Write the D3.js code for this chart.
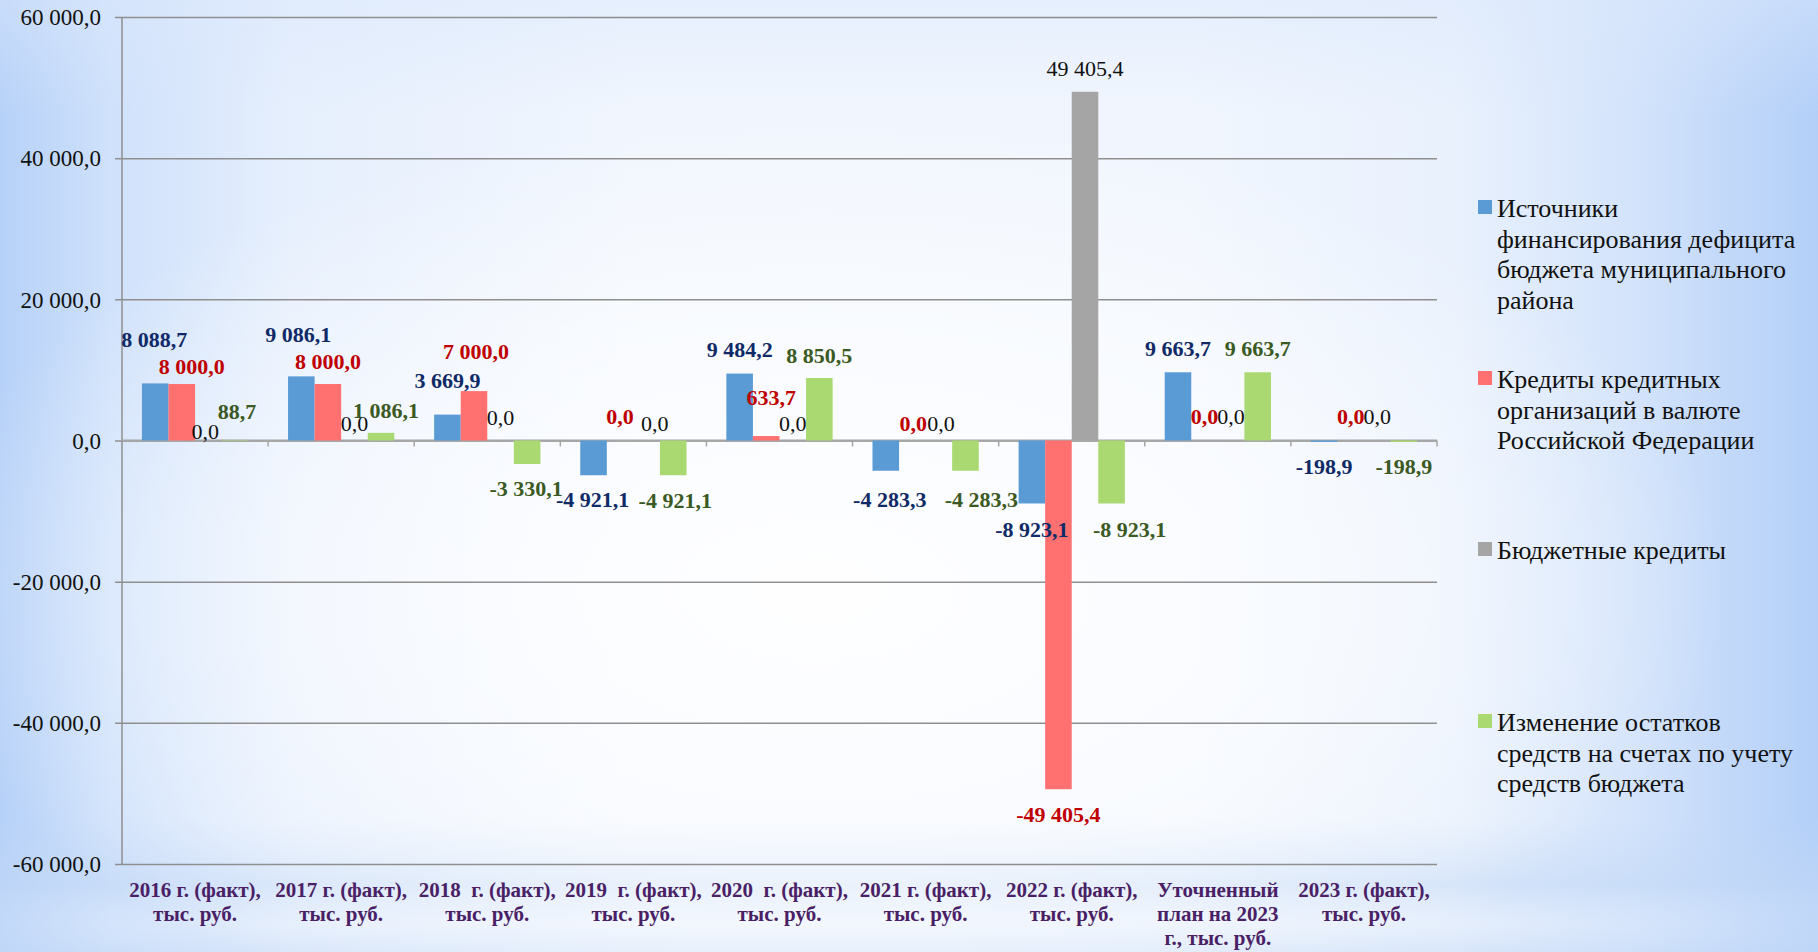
<!DOCTYPE html>
<html><head><meta charset="utf-8">
<script src="https://cdn.jsdelivr.net/npm/d3@7"></script>
<style>
html,body{margin:0;padding:0;overflow:hidden;}
svg{display:block;}
text{font-family:"Liberation Serif","Times New Roman",serif;white-space:pre;}
</style></head>
<body>
<svg id="c" width="1818" height="952"></svg>
<script>
// ---------- data ----------
const categories = [
  "2016 г. (факт),\nтыс. руб.",
  "2017 г. (факт),\nтыс. руб.",
  "2018  г. (факт),\nтыс. руб.",
  "2019  г. (факт),\nтыс. руб.",
  "2020  г. (факт),\nтыс. руб.",
  "2021 г. (факт),\nтыс. руб.",
  "2022 г. (факт),\nтыс. руб.",
  "Уточненный\nплан на 2023\nг., тыс. руб.",
  "2023 г. (факт),\nтыс. руб."
];
const seriesNames = [
  "Источники\nфинансирования дефицита\nбюджета муниципального\nрайона",
  "Кредиты кредитных\nорганизаций в валюте\nРоссийской Федерации",
  "Бюджетные кредиты",
  "Изменение остатков\nсредств на счетах по учету\nсредств бюджета"
];
const sourcesValues = [8088.7, 9086.1, 3669.9, -4921.1, 9484.2, -4283.3, -8923.1, 9663.7, -198.9];
const bankCreditValues = [8000.0, 8000.0, 7000.0, 0.0, 633.7, 0.0, -49405.4, 0.0, 0.0];
const budgetCreditValues = [0.0, 0.0, 0.0, 0.0, 0.0, 0.0, 49405.4, 0.0, 0.0];
const balanceChangeValues = [88.7, 1086.1, -3330.1, -4921.1, 8850.5, -4283.3, -8923.1, 9663.7, -198.9];
const yTicks = [-60000, -40000, -20000, 0, 20000, 40000, 60000];

// ---------- style / layout ----------
const seriesValues = [sourcesValues, bankCreditValues, budgetCreditValues, balanceChangeValues];
const barColors = ["#5B9BD5", "#FF7171", "#A5A5A5", "#A9D970"];
const labelColors = ["#0F2A66", "#C00000", "#111111", "#3B5A23"];
const labelWeights = ["bold", "bold", "normal", "bold"];
// manual nudges of data labels [dx, dy] (label layout, like the hand-moved labels in the original)
const labelNudge = [
  [[-1,-20],[-3,-18],[0,-10],[-1,0],[0,0],[4,5],[0,2],[0,0],[0,0]],
  [[10,6],[0,1],[2,-16],[0,0],[5,-15],[1,7],[0,1],[0,0],[0,0]],
  [[-3,15],[0,7],[0,1],[8,7],[0,7],[2,7],[0,1],[0,0],[0,0]],
  [[2,-5],[5,1],[-1,0],[2,1],[0,1],[16,5],[18,2],[0,0],[0,0]]
];

const svg = d3.select("#c");
const W = 1818, H = 952;
const m = {left: 122, right: 1437, top: 17, bottom: 864};

// background
const defs = svg.append("defs");
const lg = defs.append("linearGradient").attr("id","bgH").attr("x1","0").attr("x2","1").attr("y1","0").attr("y2","0");
[[0,"#b6d1f8"],[0.06,"#cfe1fb"],[0.16,"#e6effd"],[0.35,"#f1f6fe"],[0.65,"#f1f6fe"],[0.8,"#e9f1fd"],[0.9,"#d3e3fb"],[1,"#b3cff8"]]
  .forEach(([o,c]) => lg.append("stop").attr("offset",o).attr("stop-color",c));
const rg = defs.append("radialGradient").attr("id","glow").attr("cx","0.45").attr("cy","0.62").attr("r","0.5");
rg.append("stop").attr("offset",0).attr("stop-color","#ffffff").attr("stop-opacity",0.95);
rg.append("stop").attr("offset",0.6).attr("stop-color","#ffffff").attr("stop-opacity",0.5);
rg.append("stop").attr("offset",1).attr("stop-color","#ffffff").attr("stop-opacity",0);
const vg = defs.append("linearGradient").attr("id","bgV").attr("x1","0").attr("x2","0").attr("y1","0").attr("y2","1");
[[0,"#dbe8fc",0.5],[0.12,"#dbe8fc",0],[0.86,"#c2d8f6",0],[0.93,"#c2d8f6",0.55],[0.97,"#dde9fb",0.3],[1,"#c8dcf7",0.5]]
  .forEach(([o,c,a]) => vg.append("stop").attr("offset",o).attr("stop-color",c).attr("stop-opacity",a));
svg.append("rect").attr("width",W).attr("height",H).attr("fill","url(#bgH)");
svg.append("rect").attr("width",W).attr("height",H).attr("fill","url(#bgV)");
svg.append("rect").attr("width",W).attr("height",H).attr("fill","url(#glow)");

// scales
const x = d3.scaleBand().domain(d3.range(categories.length)).range([m.left, m.right]).paddingInner(0).paddingOuter(0);
const xs = d3.scaleBand().domain(d3.range(seriesValues.length)).range([0, x.bandwidth()]).paddingInner(0).paddingOuter(0.75);
const y = d3.scaleLinear().domain([-60000, 60000]).range([m.bottom, m.top]);

const ru = d3.formatLocale({decimal: ",", thousands: " ", grouping: [3], currency: ["", ""], minus: "-"});
const fmt = ru.format(",.1f");

// gridlines + y axis
const gridColor = "#8f8f8f";
const yAxis = d3.axisLeft(y).tickValues(yTicks).tickFormat(fmt).tickSize(-(m.right - m.left)).tickPadding(21);
const ga = svg.append("g").attr("transform", `translate(${m.left},0)`).call(yAxis);
ga.select(".domain").remove();
ga.selectAll(".tick line").attr("stroke", gridColor).attr("stroke-width", 1.5).attr("x1", -7);
ga.selectAll(".tick text").attr("font-size", 23).attr("fill", "#111").attr("font-family", "Liberation Serif").attr("dy", "0.34em").attr("x", -21);
svg.append("line").attr("x1", m.left).attr("x2", m.left).attr("y1", m.top).attr("y2", m.bottom)
  .attr("stroke", gridColor).attr("stroke-width", 1.5);

// x axis at zero with ticks at category boundaries
const y0 = y(0);
const gx = svg.append("g");
gx.append("line").attr("x1", m.left).attr("x2", m.right).attr("y1", y0).attr("y2", y0).attr("stroke", "#a6a6a6").attr("stroke-width", 2);
gx.selectAll("line.t").data(d3.range(1, categories.length + 1)).join("line").attr("class","t")
  .attr("x1", i => i < categories.length ? x(i) : m.right).attr("x2", i => i < categories.length ? x(i) : m.right)
  .attr("y1", y0).attr("y2", y0 + 6).attr("stroke", "#a6a6a6").attr("stroke-width", 1.5);

// bars
seriesValues.forEach((vals, s) => {
  svg.append("g").selectAll("rect").data(vals).join("rect")
    .attr("x", (d, i) => x(i) + xs(s))
    .attr("width", xs.bandwidth())
    .attr("y", d => Math.min(y(d), y0))
    .attr("height", d => Math.abs(y(d) - y0))
    .attr("fill", barColors[s]);
});

// data labels
seriesValues.forEach((vals, s) => {
  svg.append("g").selectAll("text").data(vals).join("text")
    .attr("x", (d, i) => x(i) + xs(s) + xs.bandwidth() / 2 + labelNudge[s][i][0])
    .attr("y", (d, i) => (d >= 0 ? y(d) - 24 : y(d) + 24) + labelNudge[s][i][1])
    .attr("dy", "0.35em")
    .attr("text-anchor", "middle")
    .attr("font-size", 22)
    .attr("font-weight", labelWeights[s])
    .attr("fill", labelColors[s])
    .text(d => fmt(d));
});

// category labels
const cat = svg.append("g");
categories.forEach((c, i) => {
  const t = cat.append("text").attr("text-anchor", "middle").attr("font-size", 21).attr("font-weight", "bold").attr("fill", "#4a1f66");
  c.split("\n").forEach((ln, k) => {
    t.append("tspan").attr("x", x(i) + x.bandwidth() / 2).attr("y", 897 + k * 24).text(ln);
  });
});

// legend
const legendBaselines = [217, 388, 559, 731];
const lgd = svg.append("g");
seriesNames.forEach((n, s) => {
  const b = legendBaselines[s];
  lgd.append("rect").attr("x", 1478).attr("y", b - 17).attr("width", 14).attr("height", 14).attr("fill", barColors[s]);
  const t = lgd.append("text").attr("font-size", 26).attr("fill", "#111");
  n.split("\n").forEach((ln, k) => {
    t.append("tspan").attr("x", 1497).attr("y", b + k * 30.5).text(ln);
  });
});
</script>
</body></html>
